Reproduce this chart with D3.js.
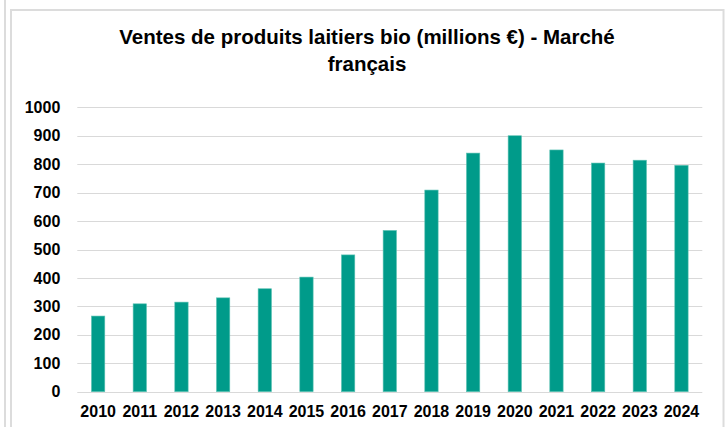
<!DOCTYPE html>
<html lang="fr">
<head>
    <meta charset="UTF-8">
    <title>Ventes de produits laitiers bio</title>
    <script src="https://d3js.org/d3.v7.min.js"></script>
</head>
<body style="margin:0;background:#fff;">
<style>
    text {
        font-family: "Liberation Sans", Arial, sans-serif;
        font-weight: bold;
        fill: #000;
    }
    .grid line {
        stroke: #d9d9d9;
    }
</style>
<script>
    // data
    const years = ["2010", "2011", "2012", "2013", "2014", "2015", "2016", "2017",
        "2018", "2019", "2020", "2021", "2022", "2023", "2024"];
    const sales = [266, 309, 315, 330, 362, 403, 481, 567, 709, 839, 900, 850, 804, 814, 796];
    const yTicks = [0, 100, 200, 300, 400, 500, 600, 700, 800, 900, 1000];
    const titleLines = ["Ventes de produits laitiers bio (millions \u20ac) - March\u00e9", "fran\u00e7ais"];

    const W = 728, H = 427;
    const plotLeft = 77.3, plotRight = 702.3, plotTop = 107.3, plotBottom = 391.7;

    const svg = d3.select("body").append("svg")
        .attr("width", W)
        .attr("height", H);

    // outer frames (chart area border + neighbouring edge)
    svg.append("line")
        .attr("x1", 5).attr("x2", 5).attr("y1", 0).attr("y2", H)
        .attr("stroke", "#dcdcdc").attr("stroke-width", 2);
    svg.append("rect")
        .attr("x", 11).attr("y", 10)
        .attr("width", 712.5).attr("height", H)
        .attr("fill", "none")
        .attr("stroke", "#dcdcdc").attr("stroke-width", 2);

    const x = d3.scaleBand()
        .domain(years)
        .range([plotLeft, plotRight])
        .paddingInner(0.68)
        .paddingOuter(0.34);

    const y = d3.scaleLinear()
        .domain([0, 1000])
        .range([plotBottom, plotTop]);

    // gridlines
    svg.append("g")
        .attr("class", "grid")
        .selectAll("line")
        .data(yTicks)
        .enter()
        .append("line")
        .attr("x1", plotLeft)
        .attr("x2", plotRight)
        .attr("y1", d => Math.round(y(d)) + 0.5)
        .attr("y2", d => Math.round(y(d)) + 0.5);

    // y axis labels
    const yAxis = svg.append("g")
        .attr("transform", "translate(" + plotLeft + ",0)")
        .call(d3.axisLeft(y).tickValues(yTicks).tickFormat(d3.format("d")).tickSize(0).tickPadding(17));
    yAxis.select(".domain").remove();
    yAxis.selectAll("text")
        .attr("font-size", 16)
        .style("font-family", "'Liberation Sans', Arial, sans-serif")
        .style("font-weight", "bold");

    // bars
    svg.selectAll("rect.bar")
        .data(sales)
        .enter()
        .append("rect")
        .attr("class", "bar")
        .attr("x", (d, i) => x(years[i]))
        .attr("y", d => y(d))
        .attr("width", x.bandwidth())
        .attr("height", d => plotBottom - y(d))
        .attr("fill", "#009b8a")
        .attr("stroke", "#5cc2b3")
        .attr("stroke-width", 0.6);

    // x axis labels
    const xAxis = svg.append("g")
        .attr("transform", "translate(0," + plotBottom + ")")
        .call(d3.axisBottom(x).tickSize(0).tickPadding(14));
    xAxis.select(".domain").remove();
    xAxis.selectAll("text")
        .attr("font-size", 16)
        .style("font-family", "'Liberation Sans', Arial, sans-serif")
        .style("font-weight", "bold");

    // title
    svg.append("g")
        .selectAll("text")
        .data(titleLines)
        .enter()
        .append("text")
        .attr("x", 367)
        .attr("y", (d, i) => 44 + i * 27)
        .attr("text-anchor", "middle")
        .attr("font-size", 20.5)
        .text(d => d);
</script>
</body>
</html>
